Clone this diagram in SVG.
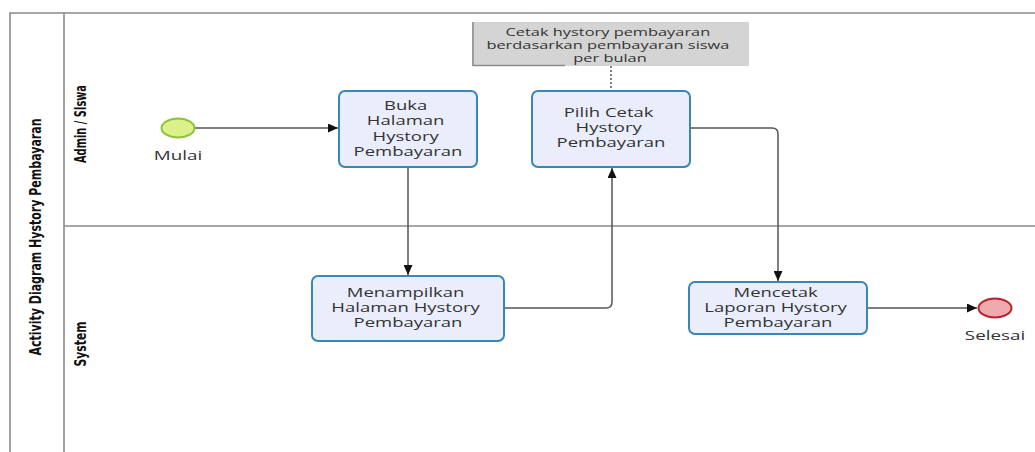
<svg xmlns="http://www.w3.org/2000/svg" width="1035" height="452" viewBox="0 0 1035 452">
  <style>
    .pool { fill: none; stroke: #8a8a8a; stroke-width: 1.6; }
    .lane-label { font-family: "Liberation Sans Narrow", "DejaVu Sans Condensed", "Liberation Sans", sans-serif; font-weight: bold; font-size: 15px; fill: #111; text-anchor: middle; }
    .task { fill: #eaeefc; stroke: #3a86b6; stroke-width: 2; }
    .t { font-family: "Open Sans", "DejaVu Sans", sans-serif; font-size: 12px; fill: #333; text-anchor: middle; }
    .note-t { font-family: "Open Sans", "DejaVu Sans", sans-serif; font-size: 10.5px; fill: #333; text-anchor: middle; }
    .flow { fill: none; stroke: #555; stroke-width: 1.5; }
    .assoc { fill: none; stroke: #555; stroke-width: 1.5; stroke-dasharray: 2 2; }
  </style>
  <defs>
    <marker id="arrow" markerUnits="userSpaceOnUse" markerWidth="11" markerHeight="9" refX="10" refY="4.5" orient="auto">
      <path d="M0,0 L10,4.5 L0,9 z" fill="#111"/>
    </marker>
  </defs>

  <rect width="1035" height="452" fill="#fff"/>

  <!-- pool and lanes -->
  <g id="pool">
    <path class="pool" d="M10,452 V13 H1035"/>
    <path class="pool" d="M64,13 V452"/>
    <path class="pool" d="M64,226 H1035"/>
    <text class="lane-label" transform="translate(35.5 237) rotate(-90)" dy="0.35em" textLength="237" lengthAdjust="spacingAndGlyphs">Activity Diagram Hystory Pembayaran</text>
    <text class="lane-label" transform="translate(81 124) rotate(-90)" dy="0.35em" textLength="78" lengthAdjust="spacingAndGlyphs">Admin / SIswa</text>
    <text class="lane-label" transform="translate(81 344) rotate(-90)" dy="0.35em" textLength="45" lengthAdjust="spacingAndGlyphs">System</text>
  </g>

  <!-- connectors -->
  <g id="connectors">
    <path class="flow" d="M195,128 H338" marker-end="url(#arrow)"/>
    <path class="flow" d="M408,167 V275" marker-end="url(#arrow)"/>
    <path class="flow" d="M504,308 H606 Q612,308 612,302 V168" marker-end="url(#arrow)"/>
    <path class="flow" d="M690,128 H772 Q778,128 778,134 V281" marker-end="url(#arrow)"/>
    <path class="flow" d="M867,308 H977" marker-end="url(#arrow)"/>
    <path class="assoc" d="M611,66 V91"/>
  </g>

  <!-- start event -->
  <g id="start">
    <ellipse cx="178" cy="128" rx="16.5" ry="9.5" fill="#dcf08c" stroke="#8cc43c" stroke-width="2"/>
    <text class="t" transform="translate(178 0) scale(1.57 1)"><tspan x="0" y="160">Mulai</tspan></text>
  </g>

  <!-- task: open history page -->
  <g id="buka-halaman">
    <rect class="task" x="339" y="91" width="138" height="76" rx="6"/>
    <text class="t" transform="translate(408 0) scale(1.54 1)">
      <tspan x="0" y="110">Buka</tspan>
      <tspan x="0" y="125.5">Halaman</tspan>
      <tspan x="0" y="141">Hystory</tspan>
      <tspan x="0" y="156.5">Pembayaran</tspan>
    </text>
  </g>

  <!-- annotation -->
  <g id="note">
    <rect x="472" y="22" width="277" height="44" fill="#d4d4d4"/>
    <path d="M473,22 V65.5 H565" fill="none" stroke="#8a8a8a" stroke-width="1.5"/>
    <text class="note-t" transform="translate(610 0) scale(1.56 1)">
      <tspan x="0" y="36">Cetak hystory pembayaran</tspan>
      <tspan x="0" y="49">berdasarkan pembayaran siswa</tspan>
      <tspan x="0" y="62">per bulan</tspan>
    </text>
  </g>

  <!-- task: choose print -->
  <g id="pilih-cetak">
    <rect class="task" x="532" y="91" width="158" height="76" rx="6"/>
    <text class="t" transform="translate(611 0) scale(1.54 1)">
      <tspan x="0" y="117">Pilih Cetak</tspan>
      <tspan x="0" y="132">Hystory</tspan>
      <tspan x="0" y="147">Pembayaran</tspan>
    </text>
  </g>

  <!-- task: show history page -->
  <g id="menampilkan">
    <rect class="task" x="312" y="276" width="192" height="65" rx="6"/>
    <text class="t" transform="translate(408 0) scale(1.54 1)">
      <tspan x="0" y="297">Menampilkan</tspan>
      <tspan x="0" y="312">Halaman Hystory</tspan>
      <tspan x="0" y="327">Pembayaran</tspan>
    </text>
  </g>

  <!-- task: print report -->
  <g id="mencetak">
    <rect class="task" x="689" y="282" width="178" height="52" rx="6"/>
    <text class="t" transform="translate(778 0) scale(1.54 1)">
      <tspan x="0" y="297">Mencetak</tspan>
      <tspan x="0" y="312">Laporan Hystory</tspan>
      <tspan x="0" y="327">Pembayaran</tspan>
    </text>
  </g>

  <!-- end event -->
  <g id="end">
    <ellipse cx="995" cy="308" rx="16.5" ry="9.5" fill="#f0a9ae" stroke="#b3262e" stroke-width="2"/>
    <text class="t" transform="translate(995 0) scale(1.57 1)"><tspan x="0" y="340">Selesai</tspan></text>
  </g>
</svg>
